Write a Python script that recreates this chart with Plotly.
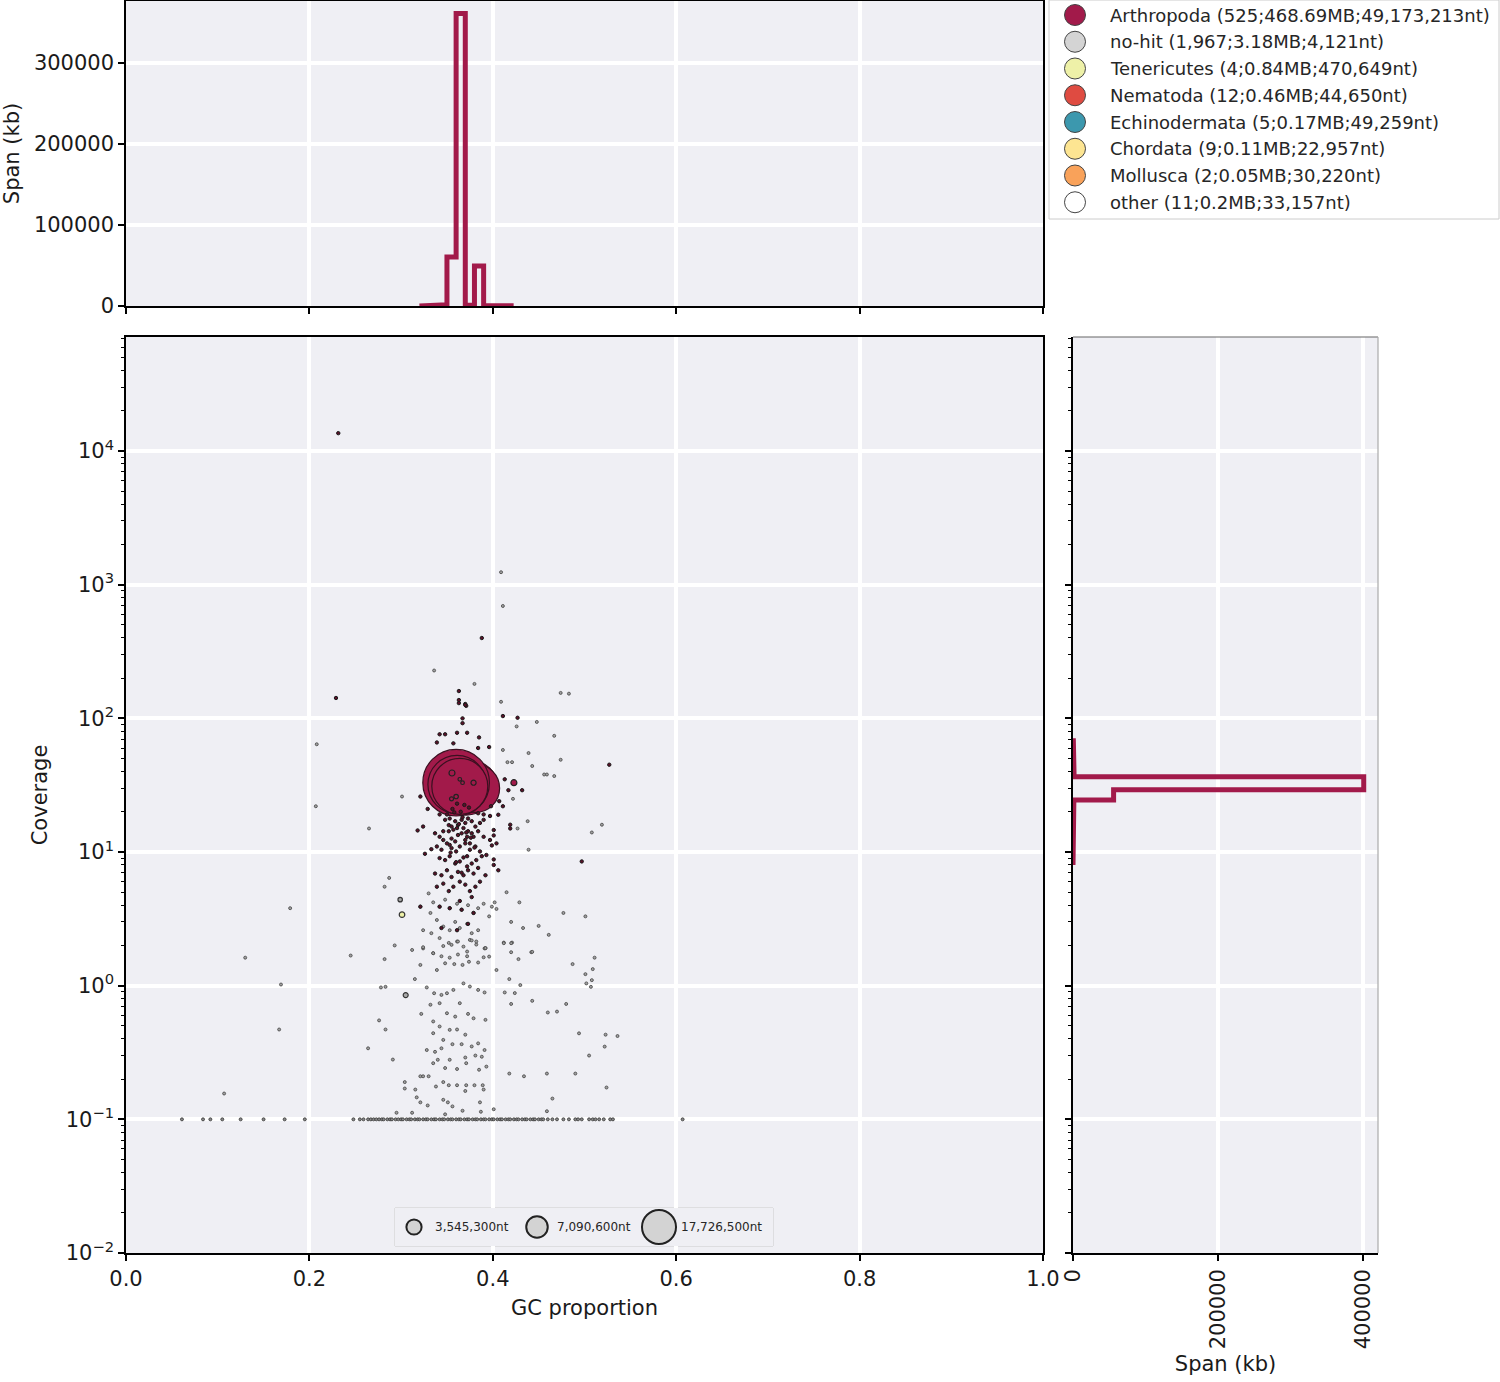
import numpy as np
import plotly.graph_objects as go

# ---------------------------------------------------------------- data
CAT_NAMES = ["Arthropoda", "no-hit", "Tenericutes", "Nematoda",
             "Echinodermata", "Chordata", "Mollusca", "other"]
CAT_LABELS = ["Arthropoda (525;468.69MB;49,173,213nt)",
              "no-hit (1,967;3.18MB;4,121nt)",
              "Tenericutes (4;0.84MB;470,649nt)",
              "Nematoda (12;0.46MB;44,650nt)",
              "Echinodermata (5;0.17MB;49,259nt)",
              "Chordata (9;0.11MB;22,957nt)",
              "Mollusca (2;0.05MB;30,220nt)",
              "other (11;0.2MB;33,157nt)"]
CAT_COLORS = ["#A21A4A", "#D4D4D4", "#EEF1A8", "#DF4B41",
              "#3C98AE", "#FDE592", "#F9A25A", "#FFFFFF"]

# large Arthropoda contigs (GC, coverage, length nt), in drawing order
arth_big_gc = [0.363, 0.370, 0.357, 0.368, 0.361, 0.365, 0.358, 0.362, 0.366, 0.363, 0.359,
               0.371, 0.377, 0.381, 0.360, 0.361, 0.364]
arth_big_cov = [29, 31, 33, 30, 32, 28, 35, 31, 33, 29, 34, 30, 31, 30, 33, 32, 31]
arth_big_len = [3e6, 4e6, 5e6, 6e6, 8e6, 10e6, 14e6, 18e6, 22e6, 26e6, 30e6,
                44e6, 40e6, 36e6, 68e6, 52e6, 48e6]

# medium Arthropoda contigs drawn on top
arth_mid_gc = [0.3555, 0.379, 0.360, 0.355, 0.423, 0.364, 0.367]
arth_mid_cov = [39, 33, 26, 25, 33, 35, 33]
arth_mid_len = [550000, 400000, 300000, 250000, 550000, 200000, 200000]

# small Arthropoda contigs (GC, coverage)
arth_small_gc = [0.2315, 0.388, 0.229, 0.363, 0.363, 0.363, 0.370, 0.371, 0.370, 0.367, 0.367, 0.411, 0.427,
                 0.342, 0.348, 0.361, 0.372, 0.339, 0.357, 0.385, 0.396, 0.384,
                 0.413, 0.417, 0.432, 0.321, 0.398, 0.411, 0.407, 0.406, 0.419, 0.419, 0.401, 0.401,
                 0.404, 0.399, 0.393, 0.401, 0.401, 0.406, 0.318, 0.324, 0.326, 0.333, 0.497, 0.527, 0.329,
                 0.337, 0.342, 0.346, 0.352, 0.355, 0.361, 0.366, 0.372, 0.377, 0.384, 0.390, 0.397,
                 0.339, 0.344, 0.350, 0.355, 0.360, 0.364, 0.370, 0.375, 0.381, 0.386,
                 0.342, 0.348, 0.353, 0.359, 0.364, 0.372, 0.377, 0.382, 0.388,
                 0.337, 0.344, 0.350, 0.355, 0.362, 0.368, 0.373, 0.379, 0.384, 0.392,
                 0.339, 0.346, 0.352, 0.357, 0.364, 0.370, 0.375, 0.381, 0.386,
                 0.348, 0.353, 0.359, 0.362, 0.366, 0.370, 0.373, 0.377, 0.381, 0.386, 0.390,
                 0.357, 0.362, 0.368, 0.373, 0.355, 0.359, 0.370, 0.375, 0.379, 0.346, 0.352,
                 0.342, 0.350, 0.390, 0.397, 0.384, 0.356, 0.365, 0.369, 0.374, 0.361, 0.358,
                 0.367, 0.363, 0.371, 0.376, 0.353, 0.380, 0.354, 0.368, 0.360, 0.372, 0.366,
                 0.321, 0.342, 0.353, 0.366, 0.379, 0.344, 0.361, 0.373, 0.364, 0.377]
arth_small_cov = [13600, 399, 142, 160, 137, 130, 128, 124, 126, 100, 92, 104, 101,
                  76, 76, 78, 78, 66, 65, 72, 61, 60,
                  35, 29, 29, 26, 22, 22, 24, 19, 16, 15, 14.6, 13.3,
                  11.6, 11.2, 9.5, 8.8, 8.0, 7.3, 14.5, 15.5, 9.7, 10.5, 8.5, 45, 21,
                  13.8, 13.0, 12.3, 14.3, 15.5, 15.1, 13.8, 13.0, 13.8, 14.3, 13.0, 12.3,
                  11.0, 10.4, 11.6, 10.7, 10.1, 11.0, 11.6, 10.4, 11.0, 10.1,
                  9.0, 8.7, 9.3, 8.2, 8.5, 9.3, 8.2, 8.7, 9.3,
                  6.9, 6.7, 7.3, 6.5, 7.1, 6.7, 7.3, 6.9, 7.6, 6.7,
                  5.5, 5.8, 5.1, 5.5, 6.0, 5.7, 5.1, 5.5, 6.0,
                  17.4, 17.8, 17.0, 15.9, 17.4, 16.5, 17.8, 17.0, 15.5, 16.5, 17.4,
                  14.7, 13.4, 15.1, 14.3, 12.6, 12.0, 12.3, 11.6, 13.0, 14.3, 15.9,
                  19.1, 19.1, 19.1, 18.6, 19.5, 21.0, 20.0, 22.5, 21.5, 23.0, 19.8,
                  18.2, 16.2, 14.0, 12.8, 11.3, 10.8, 9.9, 9.1, 8.4, 7.8, 7.0,
                  3.9, 3.9, 3.8, 3.7, 3.5, 2.7, 2.6, 2.9, 4.3, 4.6]

# no-hit contigs (GC, coverage)
nohit_gc = [0.409, 0.411, 0.336, 0.380, 0.409, 0.474, 0.483, 0.426, 0.448, 0.467, 0.474, 0.208, 0.207,
            0.265, 0.301, 0.411, 0.416, 0.421, 0.439, 0.443, 0.456, 0.459, 0.467, 0.422, 0.438, 0.427,
            0.519, 0.508, 0.439, 0.415, 0.429, 0.402, 0.404, 0.399, 0.396, 0.477, 0.501, 0.450, 0.461,
            0.420, 0.433, 0.412, 0.421, 0.442, 0.391, 0.282, 0.287, 0.179, 0.130, 0.293, 0.312, 0.324, 0.245,
            0.330, 0.335, 0.342, 0.348, 0.353, 0.361, 0.366, 0.373, 0.379, 0.384, 0.390,
            0.321, 0.332, 0.339, 0.346, 0.353, 0.359, 0.364, 0.372, 0.377, 0.384,
            0.324, 0.333, 0.342, 0.352, 0.361, 0.368, 0.375, 0.382, 0.392,
            0.335, 0.344, 0.353, 0.362, 0.372,
            0.324, 0.335, 0.346, 0.355, 0.362, 0.372, 0.377, 0.382, 0.392, 0.396,
            0.321, 0.339, 0.348, 0.358, 0.367, 0.374, 0.384, 0.390,
            0.315, 0.328, 0.336, 0.344, 0.350, 0.357, 0.368, 0.375, 0.384, 0.391,
            0.322, 0.332, 0.335, 0.342, 0.350, 0.359, 0.364, 0.373, 0.379, 0.392,
            0.335, 0.342, 0.346, 0.353, 0.361, 0.370, 0.377, 0.384, 0.391,
            0.328, 0.337, 0.344, 0.356, 0.366, 0.370, 0.381, 0.388,
            0.335, 0.340, 0.348, 0.353, 0.361, 0.371, 0.385, 0.393,
            0.511, 0.487, 0.501, 0.509, 0.508, 0.502, 0.507,
            0.443, 0.420, 0.420, 0.428, 0.412,
            0.404, 0.418, 0.430, 0.413, 0.424, 0.420, 0.443,
            0.480, 0.470, 0.460, 0.494, 0.523, 0.536,
            0.505, 0.524, 0.490, 0.418, 0.434, 0.459, 0.465, 0.401, 0.522, 0.459,
            0.3155, 0.317, 0.321, 0.329, 0.312, 0.321, 0.324, 0.330, 0.338, 0.346, 0.352, 0.361,
            0.346, 0.351, 0.356, 0.348, 0.370, 0.371, 0.380, 0.389, 0.390, 0.386, 0.367, 0.387,
            0.169, 0.167, 0.107, 0.282, 0.278, 0.283, 0.276, 0.283, 0.264, 0.291, 0.304, 0.304, 0.295]
nohit_cov = [1240, 693, 228, 181, 133, 155, 153, 87, 94, 74, 49, 64, 22,
             15, 26, 58, 47, 47, 55, 44, 38, 38, 37, 25, 17, 15,
             16, 14, 10.4, 5.0, 4.2, 4.2, 3.75, 3.9, 3.3, 3.5, 3.3, 2.8, 2.4,
             3.0, 2.7, 2.1, 2.1, 1.78, 1.9, 5.5, 6.4, 3.8, 1.62, 2.0, 1.85, 1.9, 1.68,
             4.9, 4.2, 3.9, 4.4, 3.8, 4.1, 3.7, 4.0, 3.5, 3.8, 4.1,
             3.9, 3.5, 3.1, 2.77, 2.6, 3.0, 2.7, 2.9, 2.47, 2.6,
             2.6, 2.47, 2.27, 2.09, 2.14, 1.96, 2.20, 2.03, 1.91,
             1.75, 1.66, 1.62, 1.71, 1.66,
             1.94, 1.75, 1.98, 2.02, 2.14, 1.80, 2.18, 2.14, 1.91, 1.65,
             1.43, 1.31, 1.47, 1.45, 1.43, 1.51, 1.49, 1.63,
             1.12, 0.97, 0.878, 0.853, 0.878, 0.93, 1.04, 0.985, 0.93, 0.89,
             0.615, 0.72, 0.54, 0.74, 0.622, 0.587, 0.74, 0.615, 0.57, 0.555,
             0.441, 0.495, 0.393, 0.467, 0.47, 0.43, 0.351, 0.37, 0.33,
             0.33, 0.32, 0.34, 0.365, 0.365, 0.29, 0.30, 0.294,
             0.263, 0.279, 0.242, 0.279, 0.238, 0.263, 0.235, 0.248,
             1.62, 1.45, 1.22, 1.33, 1.10, 1.04, 0.98,
             1.79, 2.08, 1.78, 1.58, 2.08,
             1.31, 1.12, 1.01, 0.89, 0.88, 0.73, 0.77,
             0.73, 0.64, 0.63, 0.44, 0.43, 0.42,
             0.30, 0.173, 0.22, 0.22, 0.21, 0.115, 0.143, 0.119, 0.35, 0.22,
             0.167, 0.146, 0.134, 0.127, 0.112, 0.21, 0.21, 0.21, 0.176, 0.19, 0.18, 0.18,
             0.14, 0.134, 0.125, 0.109, 0.163, 0.18, 0.18, 0.18, 0.167, 0.134, 0.116, 0.114,
             1.02, 0.47, 0.156, 1.58, 0.97, 0.98, 0.55, 0.47, 0.34, 0.28, 0.19, 0.17, 0.112]

# larger no-hit contigs (GC, coverage, length nt)
nohit_big_gc = [0.299, 0.305]
nohit_big_cov = [4.4, 0.85]
nohit_big_len = [300000, 380000]

# no-hit contigs without read coverage (drawn at coverage 0.1)
zero_cov = 0.1
zero_cov_gc = [0.061, 0.084, 0.092, 0.105, 0.125, 0.150, 0.173, 0.195,
               0.248, 0.255, 0.259, 0.264, 0.267, 0.270, 0.273, 0.276,
               0.279, 0.281, 0.285, 0.288, 0.290, 0.294, 0.297, 0.300, 0.302, 0.306, 0.309, 0.311,
               0.315, 0.318, 0.320, 0.324, 0.327, 0.329, 0.333, 0.336, 0.338, 0.342, 0.345, 0.347,
               0.351, 0.354, 0.356, 0.360, 0.363, 0.365, 0.369, 0.372, 0.374, 0.378, 0.381, 0.383,
               0.387, 0.390, 0.392, 0.396, 0.399, 0.401, 0.405, 0.408, 0.410, 0.414, 0.417, 0.419,
               0.423, 0.426, 0.428, 0.432, 0.435, 0.437, 0.441, 0.444, 0.446, 0.450, 0.453, 0.455,
               0.460, 0.465, 0.470, 0.477, 0.483, 0.490, 0.493, 0.497, 0.505, 0.509, 0.512, 0.516,
               0.521, 0.528, 0.531, 0.607]

# Tenericutes contig
ten_gc = [0.301]
ten_cov = [3.4]
ten_len = [470649]

# GC histogram of Arthropoda span (kb)
gc_hist_edges = [0.32, 0.33, 0.34, 0.35, 0.36, 0.37, 0.38, 0.39, 0.40, 0.41, 0.42]
gc_hist_arth_kb = [200, 300, 1500, 60500, 361000, 800, 49500, 600, 300, 200]

# coverage histogram of Arthropoda span (kb)
cov_hist_edges = [8, 10, 12.6, 15.8, 20, 24.5, 29.2, 36.5, 45, 55, 68]
cov_hist_arth_kb = [300, 500, 600, 800, 1200, 56000, 401000, 1500, 1000, 500]

# bubble size legend
size_legend_len = [3545300, 7090600, 17726500]
size_legend_text = ["3,545,300nt", "7,090,600nt", "17,726,500nt"]

# ---------------------------------------------------------------- style
W, H = 1500, 1382
BG = "#EFEFF4"
FONT = "DejaVu Sans"
K_SIZE = 0.00808          # marker diameter (px) per sqrt(nt)
MIN_SIZE = 3.0


def px_x(p):
    return p / W


def px_y(p):
    return 1 - p / H


def sizes(lengths):
    return [max(MIN_SIZE, K_SIZE * np.sqrt(v)) for v in lengths]


def step_outline(edges, vals):
    xs, ys = [edges[0]], [0]
    for i, v in enumerate(vals):
        xs += [edges[i], edges[i + 1]]
        ys += [v, v]
    xs.append(edges[-1])
    ys.append(0)
    return xs, ys


fig = go.Figure()

# ---- main scatter
fig.add_trace(go.Scatter(x=zero_cov_gc, y=[zero_cov] * len(zero_cov_gc), mode="markers",
                         marker=dict(size=3, color="#8A8A8A", opacity=1, line=dict(color="#333", width=0.8)),
                         xaxis="x", yaxis="y", showlegend=False, hoverinfo="skip"))
fig.add_trace(go.Scatter(x=nohit_gc, y=nohit_cov, mode="markers",
                         marker=dict(size=3, color="#A0A0A0", opacity=1, line=dict(color="#444", width=0.8)),
                         xaxis="x", yaxis="y", showlegend=False))
fig.add_trace(go.Scatter(x=nohit_big_gc, y=nohit_big_cov, mode="markers",
                         marker=dict(size=sizes(nohit_big_len), color="#A8A8A8", opacity=1,
                                     line=dict(color="#333", width=1.2)),
                         xaxis="x", yaxis="y", showlegend=False))
fig.add_trace(go.Scatter(x=ten_gc, y=ten_cov, mode="markers",
                         marker=dict(size=sizes(ten_len), color=CAT_COLORS[2], opacity=1,
                                     line=dict(color="#333", width=1.2)),
                         xaxis="x", yaxis="y", showlegend=False))
fig.add_trace(go.Scatter(x=arth_big_gc, y=arth_big_cov, mode="markers",
                         marker=dict(size=sizes(arth_big_len), color=CAT_COLORS[0], opacity=1,
                                     line=dict(color="#3a1020", width=1.2)),
                         xaxis="x", yaxis="y", showlegend=False))
fig.add_trace(go.Scatter(x=arth_small_gc, y=arth_small_cov, mode="markers",
                         marker=dict(size=3.4, color="#5a1028", opacity=1, line=dict(color="#1a1a1a", width=1)),
                         xaxis="x", yaxis="y", showlegend=False))
fig.add_trace(go.Scatter(x=arth_mid_gc, y=arth_mid_cov, mode="markers",
                         marker=dict(size=sizes(arth_mid_len), color=CAT_COLORS[0], opacity=1,
                                     line=dict(color="#222", width=1.2)),
                         xaxis="x", yaxis="y", showlegend=False))

# ---- top GC histogram
hx, hy = step_outline(gc_hist_edges, gc_hist_arth_kb)
fig.add_trace(go.Scatter(x=hx, y=hy, mode="lines", line=dict(color=CAT_COLORS[0], width=5),
                         xaxis="x2", yaxis="y2", showlegend=False))

# ---- right coverage histogram
cy, cx = step_outline(cov_hist_edges, cov_hist_arth_kb)
fig.add_trace(go.Scatter(x=cx, y=cy, mode="lines", line=dict(color=CAT_COLORS[0], width=5),
                         xaxis="x3", yaxis="y3", showlegend=False))

# ---- bubble size legend (own hidden axes)
sl_x = [19, 142, 264]
fig.add_trace(go.Scatter(x=sl_x, y=[0.5] * 3, mode="markers",
                         marker=dict(size=sizes(size_legend_len), color="#D3D3D3", opacity=1,
                                     line=dict(color="#222", width=2)),
                         xaxis="x4", yaxis="y4", showlegend=False, hoverinfo="skip"))

# ---- category legend (own hidden axes)
row_y = [15 + 26.75 * i for i in range(len(CAT_NAMES))]
fig.add_trace(go.Scatter(x=[26] * len(CAT_NAMES), y=row_y, mode="markers",
                         marker=dict(size=21, color=CAT_COLORS, opacity=1, line=dict(color="#444", width=1)),
                         xaxis="x5", yaxis="y5", showlegend=False, hoverinfo="skip"))

annotations = []
for yy, lab in zip(row_y, CAT_LABELS):
    annotations.append(dict(x=59, y=yy, xref="x5", yref="y5", text=lab, showarrow=False,
                            xanchor="left", yanchor="middle",
                            font=dict(family=FONT, size=18, color="#262626")))
for xx, lab in zip([38, 160, 284], size_legend_text):
    annotations.append(dict(x=xx, y=0.5, xref="x4", yref="y4", text=lab, showarrow=False,
                            xanchor="left", yanchor="middle",
                            font=dict(family=FONT, size=12, color="#262626")))

# ---- axes
log_lo, log_hi = -2, 4.853
dec_vals = [10.0 ** k for k in range(-2, 5)]
dec_text = ["10<sup>%s</sup>" % (str(k).replace("-", "\u2212")) for k in range(-2, 5)]
minor_vals = [m * 10.0 ** k for k in range(-2, 5) for m in range(2, 10) if m * 10.0 ** k < 10 ** log_hi]

tickfont = dict(family=FONT, size=21, color="#1a1a1a")
titlefont = dict(family=FONT, size=21, color="#1a1a1a")
grid = dict(showgrid=True, gridcolor="white", gridwidth=4, zeroline=False, automargin=False)

main_x = [px_x(126), px_x(1043)]
main_y = [px_y(1253), px_y(337)]
top_y = [px_y(306), px_y(1)]
right_x = [px_x(1073), px_x(1378)]

fig.update_layout(
    width=W, height=H, autosize=False,
    margin=dict(l=0, r=0, t=0, b=0, pad=0),
    paper_bgcolor="white", plot_bgcolor=BG,
    font=dict(family=FONT, color="#1a1a1a"),
    showlegend=False,
    annotations=annotations,
    xaxis=dict(domain=main_x, anchor="y", range=[0, 1],
               tickmode="array", tickvals=[0, 0.2, 0.4, 0.6, 0.8, 1.0],
               ticktext=["0.0", "0.2", "0.4", "0.6", "0.8", "1.0"],
               ticks="outside", ticklen=6, tickwidth=1.5, tickcolor="black",
               showline=True, mirror=True, linecolor="black", linewidth=1.5,
               tickfont=tickfont, title=dict(text="GC proportion", font=titlefont, standoff=10),
               **grid),
    yaxis=dict(domain=main_y, anchor="x", type="log", range=[log_lo, log_hi],
               tickmode="array", tickvals=dec_vals, ticktext=dec_text,
               ticks="outside", ticklen=6, tickwidth=1.5, tickcolor="black",
               minor=dict(tickmode="array", tickvals=minor_vals, ticks="outside",
                          ticklen=3, tickwidth=1, tickcolor="black", showgrid=False),
               showline=True, mirror=True, linecolor="black", linewidth=1.5,
               tickfont=tickfont, title=dict(text="Coverage", font=titlefont, standoff=12),
               **grid),
    xaxis2=dict(domain=main_x, anchor="y2", range=[0, 1],
                tickmode="array", tickvals=[0, 0.2, 0.4, 0.6, 0.8, 1.0], showticklabels=False,
                ticks="outside", ticklen=6, tickwidth=1.5, tickcolor="black",
                showline=True, mirror=True, linecolor="black", linewidth=1.5, **grid),
    yaxis2=dict(domain=top_y, anchor="x2", range=[0, 376500],
                tickmode="array", tickvals=[0, 100000, 200000, 300000],
                ticktext=["0", "100000", "200000", "300000"],
                ticks="outside", ticklen=6, tickwidth=1.5, tickcolor="black",
                showline=True, mirror=True, linecolor="black", linewidth=1.5,
                tickfont=tickfont, title=dict(text="Span (kb)", font=titlefont, standoff=12),
                **grid),
    xaxis3=dict(domain=right_x, anchor="y3", range=[0, 420700],
                tickmode="array", tickvals=[0, 200000, 400000],
                ticktext=["0", "200000", "400000"], tickangle=-90,
                ticks="outside", ticklen=6, tickwidth=1.5, tickcolor="black",
                showline=True, linecolor="black", linewidth=1.5,
                tickfont=tickfont, title=dict(text="Span (kb)", font=titlefont, standoff=8),
                **grid),
    yaxis3=dict(domain=main_y, anchor="x3", type="log", range=[log_lo, log_hi],
                tickmode="array", tickvals=dec_vals, showticklabels=False,
                ticks="outside", ticklen=6, tickwidth=1.5, tickcolor="black",
                minor=dict(tickmode="array", tickvals=minor_vals, ticks="outside",
                           ticklen=3, tickwidth=1, tickcolor="black", showgrid=False),
                showline=True, linecolor="black", linewidth=1.5, **grid),
    xaxis4=dict(domain=[px_x(395), px_x(773)], anchor="y4", range=[0, 378], visible=False,
                automargin=False),
    yaxis4=dict(domain=[px_y(1246), px_y(1208)], anchor="x4", range=[0, 1], visible=False,
                automargin=False),
    xaxis5=dict(domain=[px_x(1049), px_x(1499)], anchor="y5", range=[0, 450], visible=False,
                automargin=False),
    yaxis5=dict(domain=[px_y(219), px_y(0)], anchor="x5", range=[219, 0], visible=False,
                automargin=False),
    shapes=[
        dict(type="rect", xref="x4 domain", yref="y4 domain", x0=0, x1=1, y0=0, y1=1,
             fillcolor="white", line=dict(color="#CCCCCC", width=1), layer="below"),
        dict(type="rect", xref="x5 domain", yref="y5 domain", x0=0, x1=1, y0=0, y1=1,
             fillcolor="white", line=dict(color="#CCCCCC", width=1), layer="below"),
        dict(type="line", xref="x3 domain", yref="y3 domain", x0=0, x1=1, y0=1, y1=1,
             line=dict(color="#666666", width=1.2), layer="above"),
        dict(type="line", xref="x3 domain", yref="y3 domain", x0=1, x1=1, y0=0, y1=1,
             line=dict(color="#AAAAAA", width=1.2), layer="above"),
    ],
)

fig.write_html("out.html",
               config={"displayModeBar": False},
               post_script="document.body.style.margin='0';document.body.style.overflow='hidden';")
